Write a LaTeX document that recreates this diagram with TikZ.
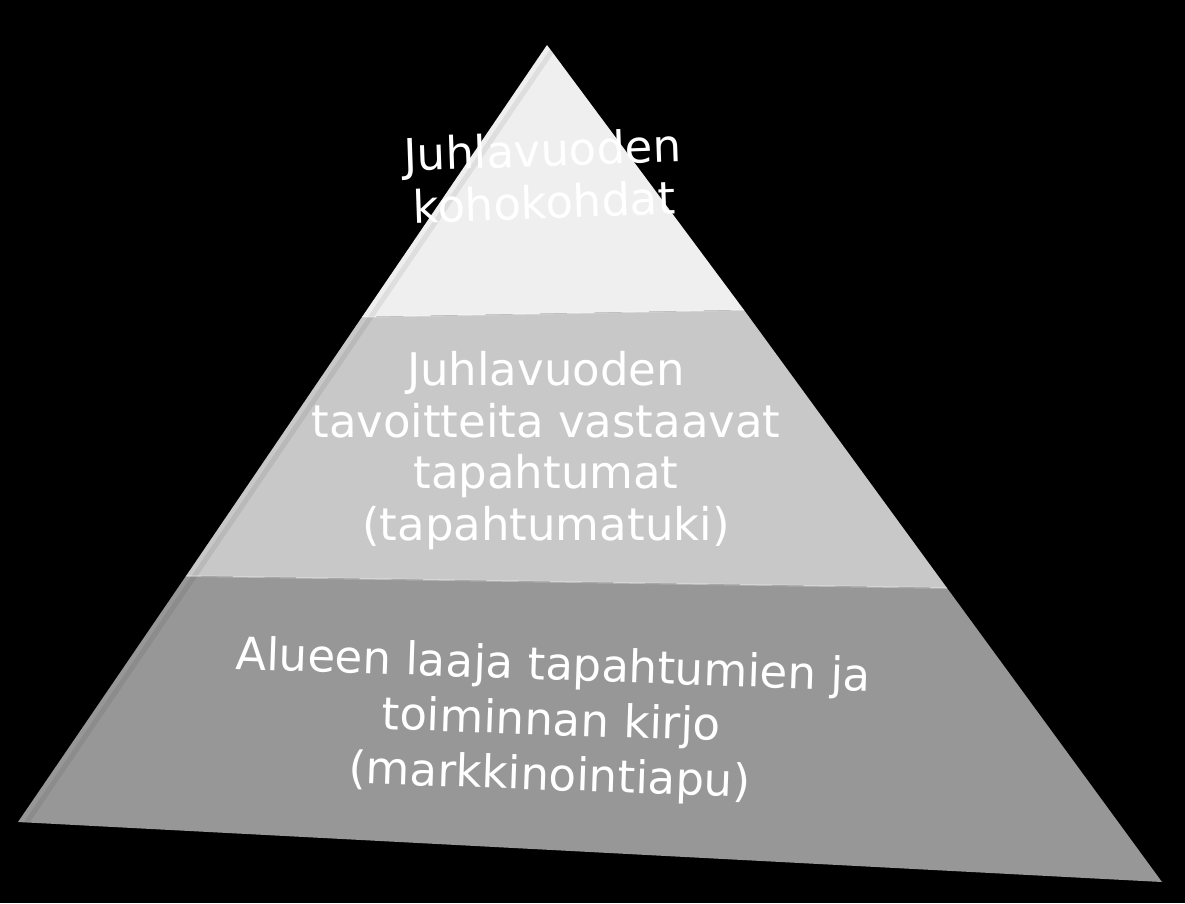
\documentclass[tikz,border=0pt]{standalone}
\usepackage{fontspec}
\setmainfont{DejaVu Sans}
\begin{document}
\begin{tikzpicture}[x=1pt,y=-1pt,
  band/.style={draw=none},
  lbl/.style={text=white,align=center,inner sep=0pt,anchor=base},
  bevel/.style={line width=5pt,black,opacity=0.07},
  hilite/.style={line width=1.5pt,white,opacity=0.35}]
\fill[black] (0,0) rectangle (1185,903);
\useasboundingbox (0,0) rectangle (1185,903);
% corner points
\coordinate (A) at (547,45);
\coordinate (T1L) at (362,317);
\coordinate (T1R) at (744,310);
\coordinate (T2L) at (186,576);
\coordinate (T2R) at (947,588);
\coordinate (BL) at (18,822);
\coordinate (BR) at (1162,882);
% bands
\fill[band,fill={rgb,255:red,239;green,239;blue,239}] (A) -- (T1R) -- (T1L) -- cycle;
\fill[band,fill={rgb,255:red,200;green,200;blue,200}] (T1L) -- (T1R) -- (T2R) -- (T2L) -- cycle;
\fill[band,fill={rgb,255:red,151;green,151;blue,151}] (T2L) -- (T2R) -- (BR) -- (BL) -- cycle;
% bevel along left edge and highlights
\begin{scope}
\clip (A) -- (BR) -- (BL) -- cycle;
\draw[bevel] ([xshift=9pt]A) -- ([xshift=9pt]BL);
\end{scope}
\draw[hilite] (T1L) -- (T1R);
\draw[hilite] (T2L) -- (T2R);
% texts (anchor = baseline of the last line)
\begin{scope}[font=\fontsize{45}{52}\selectfont]
\node[lbl,rotate=2] (top) at (545,218.5) {Juhlavuoden\\kohokohdat};
\end{scope}
\begin{scope}[font=\fontsize{45}{51.5}\selectfont]
\node[lbl] (mid) at (546,540) {Juhlavuoden\\tavoitteita vastaavat\\tapahtumat\\(tapahtumatuki)};
\end{scope}
\begin{scope}[font=\fontsize{45}{55}\selectfont]
\node[lbl,rotate=-2] (bot) at (549,790) {Alueen laaja tapahtumien ja\\toiminnan kirjo\\(markkinointiapu)};
\end{scope}
\end{tikzpicture}
\end{document}
